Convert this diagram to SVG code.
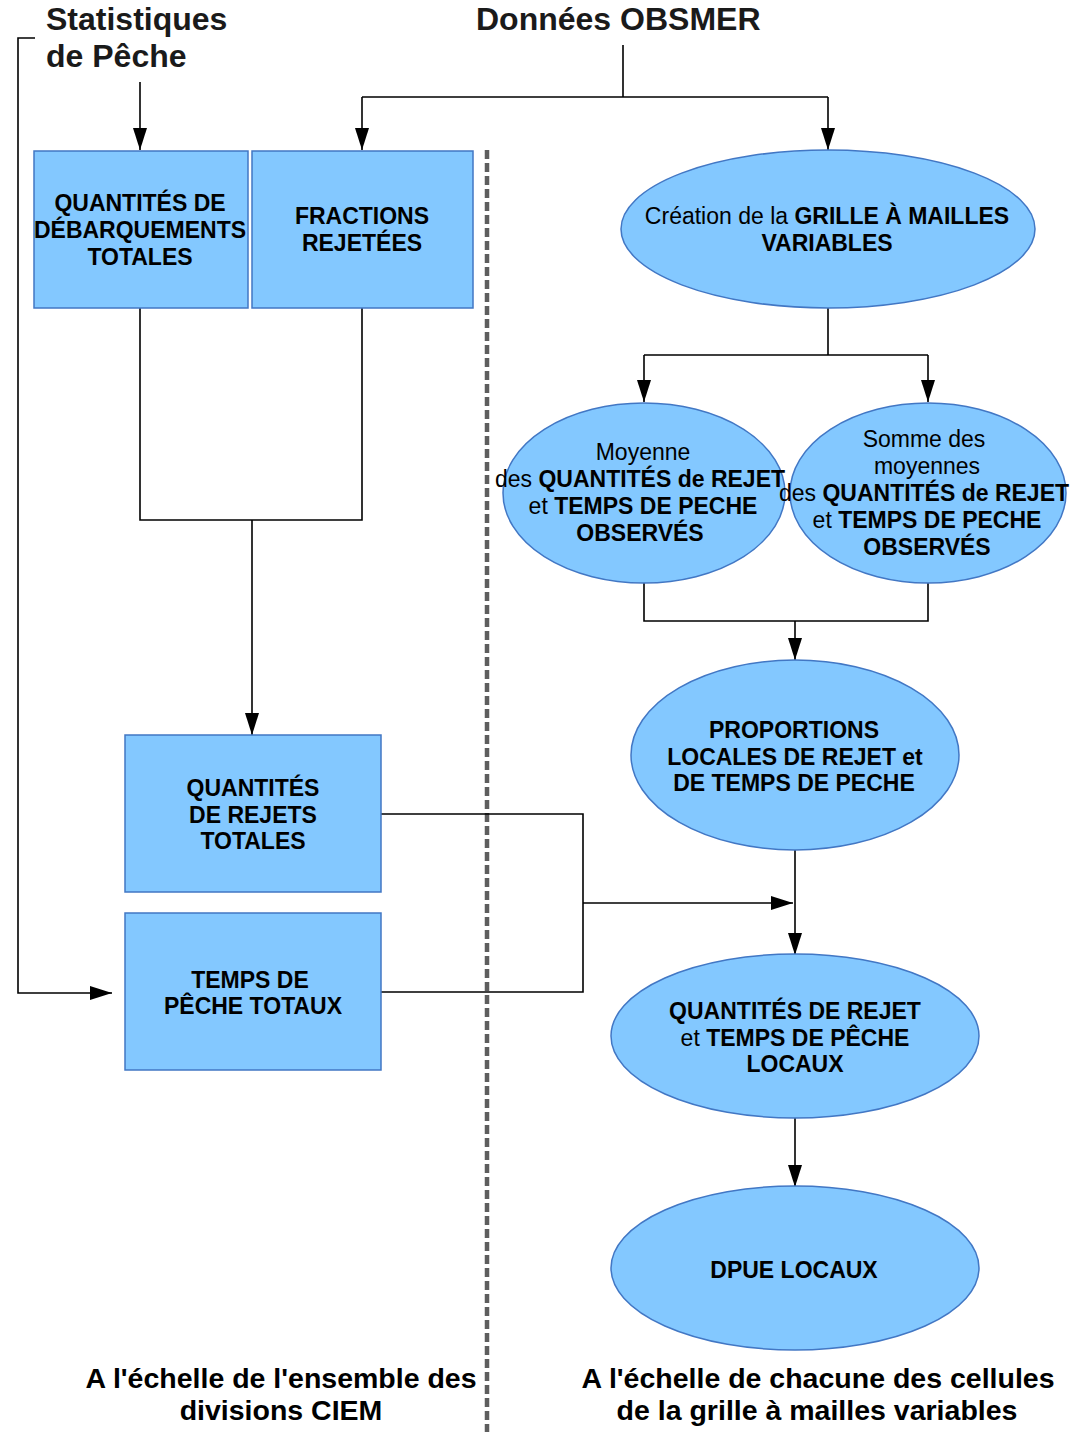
<svg xmlns="http://www.w3.org/2000/svg" width="1072" height="1432" viewBox="0 0 1072 1432">
  <style>
    text { font-family: "Liberation Sans", Arial, sans-serif; fill: #000; }
    .title { font-size: 32px; font-weight: bold; fill: #1a1a1a; }
    .lbl { font-size: 23px; text-anchor: middle; }
    .b { font-weight: bold; }
    .foot { font-size: 28.5px; font-weight: bold; text-anchor: middle; }
    .node { fill: #83c8ff; stroke: #4277c4; stroke-width: 1.5; }
    .wire { fill: none; stroke: #000; stroke-width: 1.6; }
    .arr { marker-end: url(#head); }
    .divider { stroke: #5e5e5e; stroke-width: 4.5; stroke-dasharray: 9 4; }
  </style>
  <defs>
    <marker id="head" markerUnits="userSpaceOnUse" markerWidth="24" markerHeight="16" refX="22" refY="7" orient="auto">
      <path d="M0,0 L22,7 L0,14 Z" fill="#000"/>
    </marker>
  </defs>
  <rect width="1072" height="1432" fill="#fff"/>

  <!-- scale divider -->
  <line class="divider" x1="487" y1="150" x2="487" y2="1432"/>

  <!-- source headings -->
  <g id="stats-peche">
    <text class="title" x="46" y="30">Statistiques</text>
    <text class="title" x="46" y="67">de Pêche</text>
  </g>
  <g id="donnees-obsmer">
    <text class="title" x="476" y="30">Données OBSMER</text>
  </g>

  <!-- connectors -->
  <g id="connectors">
    <path class="wire arr" d="M35,38 H18 V993 H112"/>
    <path class="wire arr" d="M140,82 V150"/>
    <path class="wire" d="M623,45 V97 M362,97 H828"/>
    <path class="wire arr" d="M362,97 V150"/>
    <path class="wire arr" d="M828,97 V150"/>
    <path class="wire" d="M828,308 V355 M644,355 H928"/>
    <path class="wire arr" d="M644,355 V402"/>
    <path class="wire arr" d="M928,355 V402"/>
    <path class="wire" d="M644,583 V621 H928 V583"/>
    <path class="wire arr" d="M795,621 V660"/>
    <path class="wire" d="M140,308 V520 H362 V308"/>
    <path class="wire arr" d="M252,520 V735"/>
    <path class="wire" d="M381,814 H583 V992 H381"/>
    <path class="wire arr" d="M583,903 H793"/>
    <path class="wire arr" d="M795,850 V955"/>
    <path class="wire arr" d="M795,1118 V1187"/>
  </g>

  <!-- left column: totals per ICES division -->
  <g id="debarquements">
    <rect class="node" x="34" y="151" width="214" height="157"/>
    <text class="lbl b" x="140" y="211">QUANTITÉS DE</text>
    <text class="lbl b" x="140" y="238">DÉBARQUEMENTS</text>
    <text class="lbl b" x="140" y="265">TOTALES</text>
  </g>
  <g id="fractions">
    <rect class="node" x="252" y="151" width="221" height="157"/>
    <text class="lbl b" x="362" y="224">FRACTIONS</text>
    <text class="lbl b" x="362" y="251">REJETÉES</text>
  </g>
  <g id="rejets-totales">
    <rect class="node" x="125" y="735" width="256" height="157"/>
    <text class="lbl b" x="253" y="796">QUANTITÉS</text>
    <text class="lbl b" x="253" y="823">DE REJETS</text>
    <text class="lbl b" x="253" y="849">TOTALES</text>
  </g>
  <g id="temps-totaux">
    <rect class="node" x="125" y="913" width="256" height="157"/>
    <text class="lbl b" x="250" y="988">TEMPS DE</text>
    <text class="lbl b" x="253" y="1014">PÊCHE TOTAUX</text>
  </g>

  <!-- right column: per grid cell -->
  <g id="grille">
    <ellipse class="node" cx="828" cy="229" rx="207" ry="79"/>
    <text class="lbl" x="827" y="224">Création de la <tspan class="b">GRILLE À MAILLES</tspan></text>
    <text class="lbl b" x="827" y="251">VARIABLES</text>
  </g>
  <g id="moyenne">
    <ellipse class="node" cx="644" cy="493" rx="141" ry="90"/>
    <text class="lbl" x="643" y="460">Moyenne</text>
    <text class="lbl" x="640" y="487">des <tspan class="b">QUANTITÉS de REJET</tspan></text>
    <text class="lbl" x="643" y="514">et <tspan class="b">TEMPS DE PECHE</tspan></text>
    <text class="lbl b" x="640" y="541">OBSERVÉS</text>
  </g>
  <g id="somme">
    <ellipse class="node" cx="928" cy="493" rx="138" ry="90"/>
    <text class="lbl" x="924" y="447">Somme des</text>
    <text class="lbl" x="927" y="474">moyennes</text>
    <text class="lbl" x="924" y="501">des <tspan class="b">QUANTITÉS de REJET</tspan></text>
    <text class="lbl" x="927" y="528">et <tspan class="b">TEMPS DE PECHE</tspan></text>
    <text class="lbl b" x="927" y="555">OBSERVÉS</text>
  </g>
  <g id="proportions">
    <ellipse class="node" cx="795" cy="755" rx="164" ry="95"/>
    <text class="lbl b" x="794" y="738">PROPORTIONS</text>
    <text class="lbl b" x="795" y="765">LOCALES DE REJET et</text>
    <text class="lbl b" x="794" y="791">DE TEMPS DE PECHE</text>
  </g>
  <g id="quantites-locales">
    <ellipse class="node" cx="795" cy="1036" rx="184" ry="82"/>
    <text class="lbl b" x="795" y="1019">QUANTITÉS DE REJET</text>
    <text class="lbl" x="795" y="1046">et <tspan class="b">TEMPS DE PÊCHE</tspan></text>
    <text class="lbl b" x="795" y="1072">LOCAUX</text>
  </g>
  <g id="dpue">
    <ellipse class="node" cx="795" cy="1268" rx="184" ry="82"/>
    <text class="lbl b" x="794" y="1278">DPUE LOCAUX</text>
  </g>

  <!-- scale captions -->
  <g id="captions">
    <text class="foot" x="281" y="1388">A l'échelle de l'ensemble des</text>
    <text class="foot" x="281" y="1420">divisions CIEM</text>
    <text class="foot" x="818" y="1388">A l'échelle de chacune des cellules</text>
    <text class="foot" x="817" y="1420">de la grille à mailles variables</text>
  </g>
</svg>
